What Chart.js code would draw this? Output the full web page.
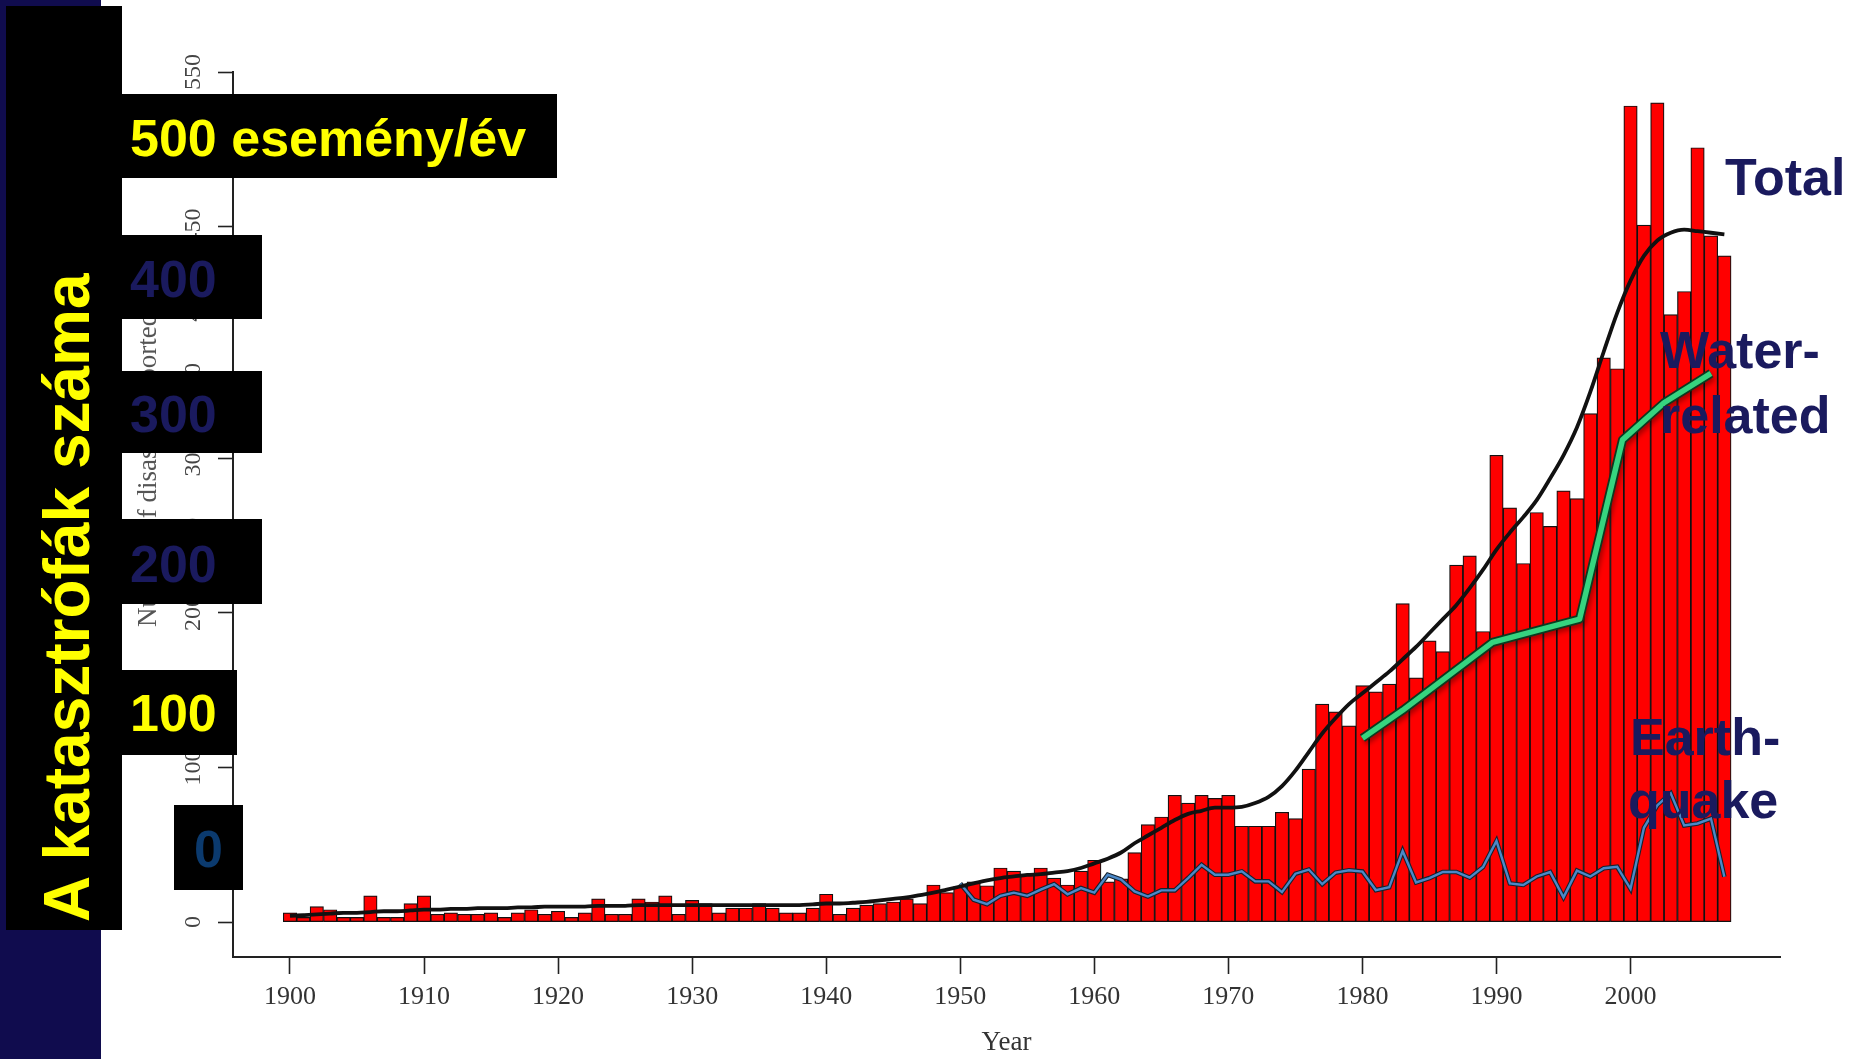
<!DOCTYPE html>
<html lang="hu">
<head>
<meta charset="utf-8">
<title>A katasztrófák száma</title>
<script src="https://cdn.jsdelivr.net/npm/chart.js@4.4.1/dist/chart.umd.min.js"></script>
<style>
  html, body { margin: 0; padding: 0; background: #fff; overflow: hidden; }
  #page { position: relative; width: 1865px; height: 1059px; }
  #chart { position: absolute; left: 0; top: 0; }
  .strip { position: absolute; left: 0; top: 0; width: 101px; height: 1059px; background: #100c4e; }
  .box { position: absolute; background: #000; }
  .txt { position: absolute; white-space: nowrap; line-height: 1; font-weight: bold; font-size: 52px;
         font-family: "Liberation Sans", Arial, sans-serif; }
  .yellow { color: #ffff00; }
  .navy { color: #1a1a5e; }
  .rot { transform-origin: 0 0; transform: rotate(-90deg); }
  .ytitle { position: absolute; white-space: nowrap; line-height: 1; font-size: 27px; color: #555;
            font-family: "Liberation Serif", "Times New Roman", serif; }
</style>
</head>
<body>
<div id="page">
  <div class="strip"></div>
  <canvas id="chart" width="1865" height="1059"></canvas>

  <!-- y axis title of the original plot, mostly hidden under the boxes -->
  <div class="ytitle rot" style="left:134px; top:627px;">Number of disasters reported</div>

  <!-- slide overlay: black boxes with the Hungarian labels -->
  <div class="box" style="left:6px; top:6px; width:116px; height:924px;"></div>
  <div class="txt yellow rot" style="left:35px; top:922px; font-size:64px;">A katasztrófák száma</div>

  <div class="box" style="left:122px; top:94px; width:435px; height:84px;"></div>
  <div class="txt yellow" style="left:130px; top:112px;">500 esemény/év</div>

  <div class="box" style="left:122px; top:235px; width:140px; height:84px;"></div>
  <div class="txt navy" style="left:130px; top:253px;">400</div>

  <div class="box" style="left:122px; top:371px; width:140px; height:82px;"></div>
  <div class="txt navy" style="left:130px; top:388px;">300</div>

  <div class="box" style="left:122px; top:519px; width:140px; height:85px;"></div>
  <div class="txt navy" style="left:130px; top:538px;">200</div>

  <div class="box" style="left:122px; top:670px; width:115px; height:85px;"></div>
  <div class="txt yellow" style="left:130px; top:687px;">100</div>

  <div class="box" style="left:174px; top:805px; width:69px; height:85px;"></div>
  <div class="txt" style="left:194px; top:823px; color:#0b3a6e;">0</div>

  <!-- series labels -->
  <div class="txt navy" style="left:1725px; top:151px;">Total</div>
  <div class="txt navy" style="left:1660px; top:324px;">Water-</div>
  <div class="txt navy" style="left:1660px; top:389px;">related</div>
  <div class="txt navy" style="left:1630px; top:711px;">Earth-</div>
  <div class="txt navy" style="left:1628px; top:774px;">quake</div>
</div>

<script>
// --- data ---
const FIRST_YEAR = 1900;

// reported disasters per year, 1900..2007
const TOTAL_COUNTS = [
  6, 3, 10, 8, 3, 3, 17, 3, 3, 12,
  17, 5, 6, 5, 5, 6, 3, 6, 8, 5,
  7, 3, 6, 15, 5, 5, 15, 13, 17, 5,
  14, 12, 6, 9, 9, 12, 9, 6, 6, 9,
  18, 5, 9, 11, 12, 13, 15, 12, 24, 19,
  23, 26, 23.5, 35, 33, 31, 35, 28.5, 24, 33,
  40, 26, 28, 45, 63, 68, 82, 77, 82, 80,
  82, 62, 62, 62, 71, 67, 99, 141, 136, 127,
  153, 149, 154, 206, 158, 182, 175, 231, 237, 188,
  302, 268, 232, 265, 256, 279, 274, 329, 365, 358,
  528, 451, 530, 393, 408, 501, 444, 431
];

// smoothed total (black curve), 1900..2007
const TOTAL_SMOOTH = [
  4, 4.5, 5, 5.5, 6, 6, 6.5, 7, 7, 7.5,
  8, 8, 8.5, 8.5, 9, 9, 9, 9.5, 9.5, 10,
  10, 10, 10, 10.5, 10.5, 10.5, 11, 11, 11, 11,
  11, 11, 11, 11, 11, 11, 11, 11, 11, 11.5,
  12, 12, 12.5, 13, 14, 15, 16, 17.5, 19, 21,
  23, 25, 27, 28.5, 29.5, 30.5, 31, 32, 33, 35,
  38, 41, 45, 51, 56, 61, 66, 70, 72, 74,
  74, 74.5, 77, 81, 88, 98, 110, 122, 132, 141,
  148, 155, 162, 170, 178, 187, 196, 205, 216, 228,
  241, 252, 262, 273, 287, 302, 320, 343, 369, 394,
  415, 431, 441, 446, 448, 447, 446, 445
];

// earthquakes per year, 1950..2007
const QUAKE_FIRST_YEAR = 1950;
const QUAKE_COUNTS = [
  25, 14.5, 11.6, 17, 19, 17, 21, 24.6, 18, 22,
  19, 30.6, 27.5, 19.8, 16.5, 20.5, 20.5, 28.5, 37, 30.6,
  30.6, 32.8, 26.3, 26.3, 19.4, 31.3, 34, 24.5, 32, 33.5,
  32.7, 20.7, 22.5, 46, 25.6, 28.5, 32.4, 32.4, 28.7, 35.6,
  52.5, 25, 24, 29.5, 32.4, 16, 33.3, 29.5, 34.8, 35.8,
  21.5, 61, 75.5, 83.3, 62.5, 63.8, 67, 29.3
];

// water-related trend (green line)
const WATER_YEARS = [1980, 1983, 1989.7, 1996.2, 1999.4, 2002.5, 2006];
const WATER_COUNTS = [119, 137, 181, 196, 312, 336, 355];

const X_TICKS = [1900, 1910, 1920, 1930, 1940, 1950, 1960, 1970, 1980, 1990, 2000];
const Y_TICKS = [0, 50, 100, 150, 200, 250, 300, 350, 400, 450, 500, 550];

// --- helpers ---
const byYear = (first, values) => values.map((y, i) => ({ x: first + i, y }));
const waterPoints = WATER_YEARS.map((x, i) => ({ x, y: WATER_COUNTS[i] }));

// soft drop shadow under the green line
const lineShadow = {
  id: 'lineShadow',
  beforeDatasetDraw(chart, args) {
    if (!chart.data.datasets[args.index].shadow) return;
    const ctx = chart.ctx;
    ctx.save();
    ctx.shadowColor = 'rgba(0,0,0,0.35)';
    ctx.shadowBlur = 5;
    ctx.shadowOffsetX = 2;
    ctx.shadowOffsetY = 3;
  },
  afterDatasetDraw(chart, args) {
    if (chart.data.datasets[args.index].shadow) chart.ctx.restore();
  }
};

const serif = 'Liberation Serif, Times New Roman, serif';
const axisLine = { display: true, color: '#222', width: 2 };

new Chart(document.getElementById('chart'), {
  type: 'bar',
  data: {
    datasets: [
      {
        type: 'line', label: 'Total (smoothed)', data: byYear(FIRST_YEAR, TOTAL_SMOOTH),
        borderColor: '#111', borderWidth: 3.8, pointRadius: 0,
        cubicInterpolationMode: 'monotone', order: 0
      },
      {
        type: 'line', label: 'Water-related', data: waterPoints,
        borderColor: '#36d47f', borderWidth: 5.5, pointRadius: 0, tension: 0,
        borderJoinStyle: 'round', order: 1
      },
      {
        type: 'line', label: 'Water-related edge', data: waterPoints,
        borderColor: '#0c3a20', borderWidth: 9, pointRadius: 0, tension: 0,
        borderJoinStyle: 'round', shadow: true, order: 2
      },
      {
        type: 'line', label: 'Earthquake', data: byYear(QUAKE_FIRST_YEAR, QUAKE_COUNTS),
        borderColor: '#4b88c8', borderWidth: 2.4, pointRadius: 0, tension: 0, order: 3
      },
      {
        type: 'line', label: 'Earthquake edge', data: byYear(QUAKE_FIRST_YEAR, QUAKE_COUNTS),
        borderColor: '#15222f', borderWidth: 4.6, pointRadius: 0, tension: 0, order: 4
      },
      {
        type: 'bar', label: 'Total', data: byYear(FIRST_YEAR, TOTAL_COUNTS),
        backgroundColor: '#ff0000', borderColor: '#111', borderWidth: 1.2, borderSkipped: false,
        barPercentage: 1, categoryPercentage: 1, grouped: false, order: 5
      }
    ]
  },
  options: {
    responsive: false,
    animation: false,
    devicePixelRatio: 1,
    layout: { padding: { left: 0, top: 72, right: 85, bottom: 0 } },
    plugins: { legend: { display: false }, tooltip: { enabled: false } },
    scales: {
      x: {
        type: 'linear', min: 1895.75, max: 2011.15, offset: false,
        afterBuildTicks: s => { s.ticks = X_TICKS.map(value => ({ value })); },
        afterFit: s => { s.height = 102; },
        border: axisLine,
        grid: { drawOnChartArea: false, drawTicks: true, tickLength: 17, tickColor: '#222', tickWidth: 1.6, offset: false },
        ticks: { autoSkip: false, maxRotation: 0, padding: 8, color: '#333',
                 font: { family: serif, size: 26 }, callback: v => String(v) },
        title: { display: true, text: 'Year', color: '#333', font: { family: serif, size: 27 }, padding: 0 }
      },
      y: {
        min: -22.6, max: 550,
        afterBuildTicks: s => { s.ticks = Y_TICKS.map(value => ({ value })); },
        afterFit: s => { s.width = 233; },
        border: axisLine,
        grid: { drawOnChartArea: false, drawTicks: true, tickLength: 15, tickColor: '#222', tickWidth: 1.6 },
        ticks: { autoSkip: false, minRotation: 90, maxRotation: 90, crossAlign: 'center', padding: 6,
                 color: '#444', font: { family: serif, size: 24 }, callback: v => String(v) }
      }
    }
  },
  plugins: [lineShadow]
});
</script>
</body>
</html>
